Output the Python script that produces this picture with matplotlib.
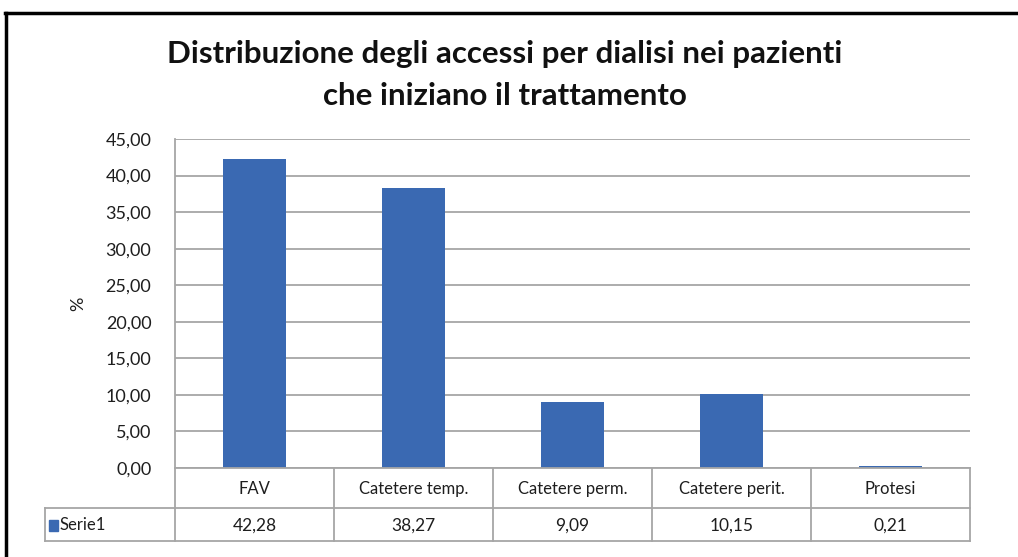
import matplotlib
matplotlib.use("Agg")
import matplotlib.pyplot as plt
from matplotlib.patches import Rectangle
from matplotlib.lines import Line2D

categories = ["FAV", "Catetere temp.", "Catetere perm.", "Catetere perit.", "Protesi"]
values = [42.28, 38.27, 9.09, 10.15, 0.21]
value_labels = ["42,28", "38,27", "9,09", "10,15", "0,21"]
series_name = "Serie1"
yticks = [0, 5, 10, 15, 20, 25, 30, 35, 40, 45]
title = "Distribuzione degli accessi per dialisi nei pazienti\nche iniziano il trattamento"

FONT = "Lato"
bar_color = "#3A69B2"
grid_color = "#A6A6A6"
text_color = "#1E1E1E"

W, H = 1018, 557
fig = plt.figure(figsize=(W / 100, H / 100), dpi=100)
fig.patch.set_facecolor("white")

# axes placement in pixels
L, R, T, B = 175, 970, 139, 468
ax = fig.add_axes([L / W, 1 - B / H, (R - L) / W, (B - T) / H])
x = list(range(len(categories)))
ax.bar(x, values, width=0.4, color=bar_color, zorder=3)
ax.set_xlim(-0.5, len(categories) - 0.5)
ax.set_ylim(0, 45)
ax.set_yticks(yticks)
ax.set_yticklabels([f"{v:.2f}".replace(".", ",") for v in yticks],
                   fontsize=13, family=FONT, color=text_color)
ax.set_xticks([])
ax.tick_params(axis="y", length=0, pad=17)
for s in ["top", "right", "bottom"]:
    ax.spines[s].set_visible(False)
ax.spines["left"].set_color(grid_color)
ax.spines["left"].set_linewidth(1.3)
ax.yaxis.grid(True, color=grid_color, linewidth=1.3, zorder=0)
ax.set_axisbelow(True)
ax.set_ylabel("%", fontsize=13, family=FONT, color=text_color, labelpad=14)

# data table below the plot (pixel coords via figure transform)
def px(xp, yp):
    return xp / W, 1 - yp / H

row1_top, row1_bot, row2_bot = 468, 508, 541
tbl_left = 45
col_w = (R - L) / len(categories)
lw = 1.3
def hline(x0, x1, y):
    fig.add_artist(Line2D([x0 / W, x1 / W], [1 - y / H, 1 - y / H], color=grid_color, lw=lw))
def vline(xp, y0, y1):
    fig.add_artist(Line2D([xp / W, xp / W], [1 - y0 / H, 1 - y1 / H], color=grid_color, lw=lw))

hline(L, R, row1_top)
hline(tbl_left, R, row1_bot)
hline(tbl_left, R, row2_bot)
vline(tbl_left, row1_bot, row2_bot)
for i in range(len(categories) + 1):
    vline(L + i * col_w, row1_top, row2_bot)

for i, (c, v) in enumerate(zip(categories, value_labels)):
    cx = L + (i + 0.5) * col_w
    fig.text(*px(cx, (row1_top + row1_bot) / 2 + 1), c, ha="center", va="center",
             fontsize=12, family=FONT, color=text_color)
    fig.text(*px(cx, (row1_bot + row2_bot) / 2 + 1), v, ha="center", va="center",
             fontsize=12.5, family=FONT, color=text_color)

# legend key
fig.add_artist(Rectangle(px(49, 531), 9 / W, 11 / H, color=bar_color))
fig.text(*px(60, (row1_bot + row2_bot) / 2 + 1), series_name, ha="left", va="center",
         fontsize=12, family=FONT, color=text_color)

# title
fig.text(*px(505, 75), title, ha="center", va="center", fontsize=22.5,
         family=FONT, fontweight="bold", color="#111111", linespacing=1.62)

# outer frame (top and left)
fig.add_artist(Line2D([5 / W, 1.0], [1 - 13 / H, 1 - 13 / H], color="black", lw=2.5))
fig.add_artist(Line2D([6 / W, 6 / W], [1 - 13 / H, 0], color="black", lw=2.5))

fig.savefig("out.png", dpi=100)
